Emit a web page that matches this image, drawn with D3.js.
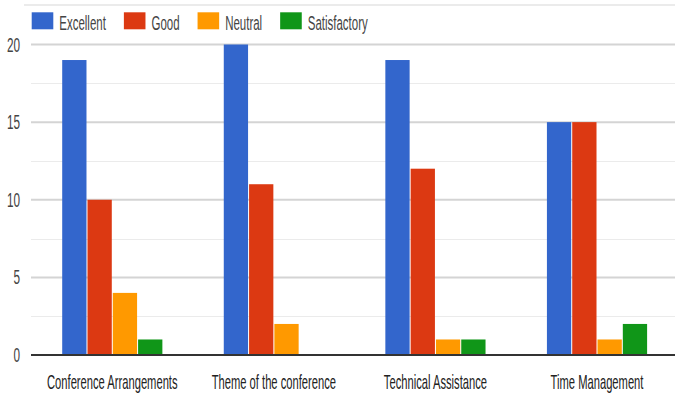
<!DOCTYPE html>
<html>
<head>
<meta charset="utf-8">
<script src="https://cdn.jsdelivr.net/npm/d3@7"></script>
<style>
  body { margin: 0; background: #fff; }
  svg { display: block; font-family: "Liberation Sans", Arial, sans-serif; }
</style>
</head>
<body>
<svg id="chart" width="675" height="396"></svg>
<script>
// data
var categories = ["Conference Arrangements", "Theme of the conference", "Technical Assistance", "Time Management"];
var seriesNames = ["Excellent", "Good", "Neutral", "Satisfactory"];
var excellent = [19, 20, 19, 15];
var good = [10, 11, 12, 15];
var neutral = [4, 2, 1, 1];
var satisfactory = [1, 0, 1, 2];
var yTicks = [0, 5, 10, 15, 20];
var colors = ["#3366cc", "#dc3912", "#ff9900", "#109618"];

var series = [excellent, good, neutral, satisfactory];
var sx = 0.56; // text looks squeezed sideways

var svg = d3.select("#chart");

var y = d3.scaleLinear().domain([0, 20]).range([355, 44.5]);
var x = d3.scaleBand().domain(categories).range([31.5, 677.8])
          .paddingInner(0.38).paddingOuter(0.19);
var xs = d3.scaleBand().domain(seriesNames).range([0, x.bandwidth()]).paddingInner(0.04);

// top frame line
svg.append("line")
   .attr("x1", 24).attr("x2", 675).attr("y1", 5).attr("y2", 5)
   .style("stroke", "#ebebeb").style("stroke-width", 2);

// minor grid
var minor = d3.range(2.5, 20, 5);
svg.selectAll(".minor").data(minor).enter().append("line")
   .attr("class", "minor")
   .attr("x1", 31).attr("x2", 675)
   .attr("y1", function(d){ return Math.round(y(d)) + 0.5; })
   .attr("y2", function(d){ return Math.round(y(d)) + 0.5; })
   .style("stroke", "#ebebeb").style("stroke-width", 1);

// major grid
svg.selectAll(".major").data(yTicks.filter(function(d){ return d > 0; })).enter().append("line")
   .attr("class", "major")
   .attr("x1", 31).attr("x2", 675)
   .attr("y1", function(d){ return y(d); })
   .attr("y2", function(d){ return y(d); })
   .style("stroke", "#d4d4d4").style("stroke-width", 2);

// y labels
svg.selectAll(".ylab").data(yTicks).enter().append("g")
   .attr("class", "ylab")
   .attr("transform", function(d){ return "translate(20," + (y(d) + 7) + ") scale(" + sx + ",1)"; })
   .append("text")
   .attr("text-anchor", "end")
   .style("font-size", "21px")
   .style("fill", "#444")
   .text(function(d){ return d; });

// bars
var groups = svg.selectAll(".grp").data(categories).enter().append("g")
   .attr("class", "grp")
   .attr("transform", function(d){ return "translate(" + x(d) + ",0)"; });

groups.selectAll("rect").data(function(c, i){
      return seriesNames.map(function(s, j){ return {s: s, v: series[j][i], c: colors[j]}; });
   }).enter().append("rect")
   .attr("x", function(d){ return xs(d.s); })
   .attr("width", xs.bandwidth())
   .attr("y", function(d){ return y(d.v); })
   .attr("height", function(d){ return y(0) - y(d.v); })
   .style("fill", function(d){ return d.c; });

// baseline
svg.append("line")
   .attr("x1", 31).attr("x2", 675).attr("y1", y(0)).attr("y2", y(0))
   .style("stroke", "#333").style("stroke-width", 2);

// category labels
svg.selectAll(".xlab").data(categories).enter().append("g")
   .attr("class", "xlab")
   .attr("transform", function(d){ return "translate(" + (x(d) + x.bandwidth() / 2) + ",389) scale(" + sx + ",1)"; })
   .append("text")
   .attr("text-anchor", "middle")
   .style("font-size", "20px")
   .style("fill", "#222")
   .text(function(d){ return d; });

// legend
var lx = 31.7;
seriesNames.forEach(function(name, i){
  svg.append("rect")
     .attr("x", lx).attr("y", 12.3).attr("width", 21.6).attr("height", 17)
     .style("fill", colors[i]);
  var g = svg.append("g")
     .attr("transform", "translate(" + (lx + 27.6) + ",30) scale(" + sx + ",1)");
  var t = g.append("text")
     .style("font-size", "20.5px")
     .style("fill", "#444")
     .text(name);
  lx = lx + 27.6 + t.node().getComputedTextLength() * sx + 18;
});
</script>
</body>
</html>
